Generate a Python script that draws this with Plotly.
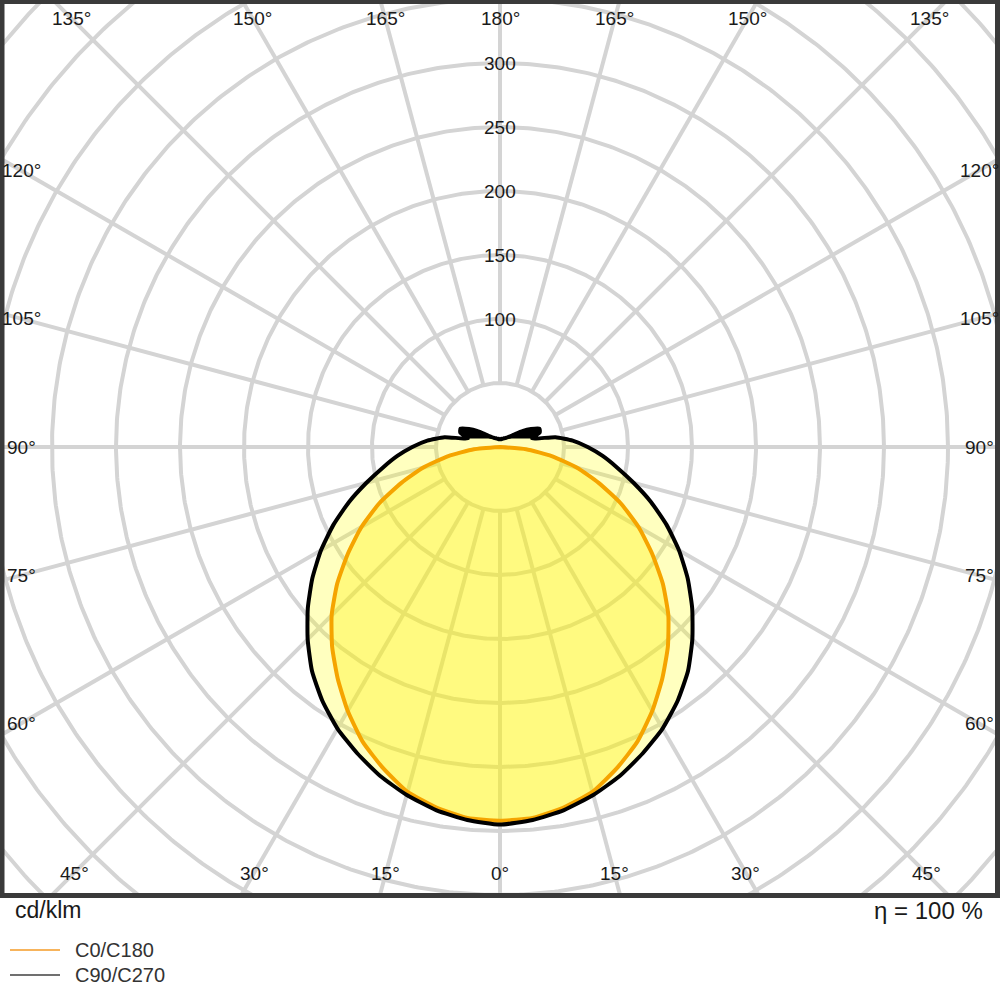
import numpy as np
import plotly.graph_objects as go

# ---------------- data ----------------
gamma_deg = list(range(0, 181, 5))  # polar angle from nadir (deg)

# C0/C180 (orange) intensity in cd/klm
c0_c180 = [292, 291, 286, 279, 267, 254, 238, 221, 204, 186, 166, 145, 125,
           104, 82, 62, 41, 20.5, 0, 0, 0, 0, 0, 0, 0, 0, 0, 0, 0, 0, 0, 0,
           0, 0, 0, 0, 0]

# C90/C270 (black) intensity in cd/klm
c90_c270 = [295, 292.5, 288, 281.5, 273.5, 264, 254, 242, 228.5, 212.5, 196,
            179, 161.5, 143.5, 125.5, 108, 93, 80.5, 68.5, 57, 44, 26, 33, 34,
            28, 22, 16, 12, 10, 9, 8, 7.5, 7, 6.5, 6.5, 6, 6]

grid_radii = [50, 100, 150, 200, 250, 300, 350, 400, 450, 500, 550]
spoke_angles = list(range(0, 181, 15))
radial_tick_vals = [100, 150, 200, 250, 300]
series_names = ["C0/C180", "C90/C270"]
unit_label = "cd/klm"
efficiency_label = "η = 100 %"

# ---------------- geometry helpers ----------------
SCALE = 1.28          # px per cd/klm
W, H = 1000, 1000
PLOT_H = 898          # plot area height in px (margin bottom = 102)
CX, CY = 500, 447     # pole position in px
XR = [-CX / SCALE, (W - CX) / SCALE]
YR = [-(PLOT_H - CY) / SCALE, CY / SCALE]


def half_to_xy(g, r, side):
    g = np.radians(np.asarray(g, dtype=float))
    r = np.asarray(r, dtype=float)
    return side * r * np.sin(g), -r * np.cos(g)


def closed_curve(g, vals):
    xr, yr = half_to_xy(g, vals, 1)
    xl, yl = half_to_xy(g[::-1], vals[::-1], -1)
    return np.concatenate([xr, xl]), np.concatenate([yr, yl])


fig = go.Figure()

GRID = "#d4d4d4"
# grid circles
t = np.linspace(0, 2 * np.pi, 721)
for rr in grid_radii:
    fig.add_trace(go.Scatter(x=rr * np.cos(t), y=rr * np.sin(t), mode="lines",
                             line=dict(color=GRID, width=4), hoverinfo="skip",
                             showlegend=False))
# spokes
for a in spoke_angles:
    sides = [1] if a in (0, 180) else [1, -1]
    for s in sides:
        x, y = half_to_xy([a, a], [50, 800], s)
        fig.add_trace(go.Scatter(x=x, y=y, mode="lines",
                                 line=dict(color=GRID, width=4),
                                 hoverinfo="skip", showlegend=False))

bx, by = closed_curve(gamma_deg, c90_c270)
ox, oy = closed_curve(gamma_deg, c0_c180)

SPL = dict(shape="spline", smoothing=0.5)
# fills
fig.add_trace(go.Scatter(x=bx, y=by, mode="lines", fill="toself",
                         fillcolor="rgba(255,255,0,0.25)",
                         line=dict(width=0, color="rgba(0,0,0,0)", **SPL),
                         hoverinfo="skip", showlegend=False))
fig.add_trace(go.Scatter(x=ox, y=oy, mode="lines", fill="toself",
                         fillcolor="rgba(255,240,0,0.33)",
                         line=dict(width=4, color="#f5a400", **SPL),
                         name=series_names[0], showlegend=False))
# the small loop of the C90/C270 curve above the horizon (back-light lobes)
i0 = gamma_deg.index(105)
wx, wy = closed_curve(gamma_deg[i0:], c90_c270[i0:])
fig.add_trace(go.Scatter(x=wx, y=wy, mode="lines", fill="toself",
                         fillcolor="#000000",
                         line=dict(width=2, color="#000000"),
                         hoverinfo="skip", showlegend=False))
fig.add_trace(go.Scatter(x=bx, y=by, mode="lines",
                         line=dict(width=4, color="#000000", **SPL),
                         name=series_names[1], showlegend=False))

FONT = "Liberation Sans, Arial, Helvetica, sans-serif"
TXT = "#1a1a1a"
annotations = []

# angle labels along an inset rectangle
X_IN = (CX - 21) / SCALE
Y_TOP = (CY - 18) / SCALE
Y_BOT = -(873 - CY) / SCALE
for a in spoke_angles:
    sides = [1] if a in (0, 180) else [1, -1]
    for s in sides:
        dx = s * np.sin(np.radians(a))
        dy = -np.cos(np.radians(a))
        cands = []
        if abs(dx) > 1e-9:
            cands.append(X_IN / abs(dx))
        if dy > 1e-9:
            cands.append(Y_TOP / dy)
        if dy < -1e-9:
            cands.append(Y_BOT / dy)
        tt = min(cands)
        annotations.append(dict(x=tt * dx, y=tt * dy, xref="x", yref="y",
                                text=f"{a}°", showarrow=False,
                                font=dict(family=FONT, size=19, color=TXT),
                                xanchor="center", yanchor="middle"))

# radial tick labels
for v in radial_tick_vals:
    annotations.append(dict(x=0, y=v, xref="x", yref="y", text=str(v),
                            showarrow=False,
                            font=dict(family=FONT, size=19, color=TXT),
                            xanchor="center", yanchor="middle"))


def px2paper(px, py):
    return px / W, (PLOT_H - py) / PLOT_H


x_, y_ = px2paper(13, 910)
annotations.append(dict(x=x_, y=y_, xref="paper", yref="paper", text=unit_label,
                        showarrow=False, xanchor="left", yanchor="middle",
                        font=dict(family=FONT, size=23, color=TXT)))
x_, y_ = px2paper(985, 910)
annotations.append(dict(x=x_, y=y_, xref="paper", yref="paper",
                        text=efficiency_label, showarrow=False,
                        xanchor="right", yanchor="middle",
                        font=dict(family=FONT, size=24, color=TXT)))

shapes = []
legend_colors = ["#f7b45c", "#707070"]
for i, (nm, col) in enumerate(zip(series_names, legend_colors)):
    py = 950 + 25 * i
    x0, y0 = px2paper(10, py)
    x1, _ = px2paper(60, py)
    shapes.append(dict(type="line", xref="paper", yref="paper", x0=x0, x1=x1,
                       y0=y0, y1=y0, line=dict(color=col, width=2)))
    xt, _ = px2paper(73, py)
    annotations.append(dict(x=xt, y=y0, xref="paper", yref="paper", text=nm,
                            showarrow=False, xanchor="left", yanchor="middle",
                            font=dict(family=FONT, size=20, color="#333333")))

# frame
fx0, fy0 = px2paper(2, 895.5)
fx1, fy1 = px2paper(997.5, 1.5)
shapes.append(dict(type="rect", xref="paper", yref="paper", x0=fx0, x1=fx1,
                   y0=fy0, y1=fy1, line=dict(color="#3a3a3a", width=5),
                   layer="above"))

fig.update_layout(
    width=W, height=H,
    margin=dict(l=0, r=0, t=0, b=H - PLOT_H, pad=0),
    paper_bgcolor="white", plot_bgcolor="white",
    xaxis=dict(range=XR, visible=False, fixedrange=True),
    yaxis=dict(range=YR, visible=False, fixedrange=True),
    annotations=annotations, shapes=shapes, showlegend=False,
)

fig.write_html(
    "out.html",
    config={"displayModeBar": False},
    post_script="document.body.style.margin='0px';document.body.style.overflow='hidden';",
)
